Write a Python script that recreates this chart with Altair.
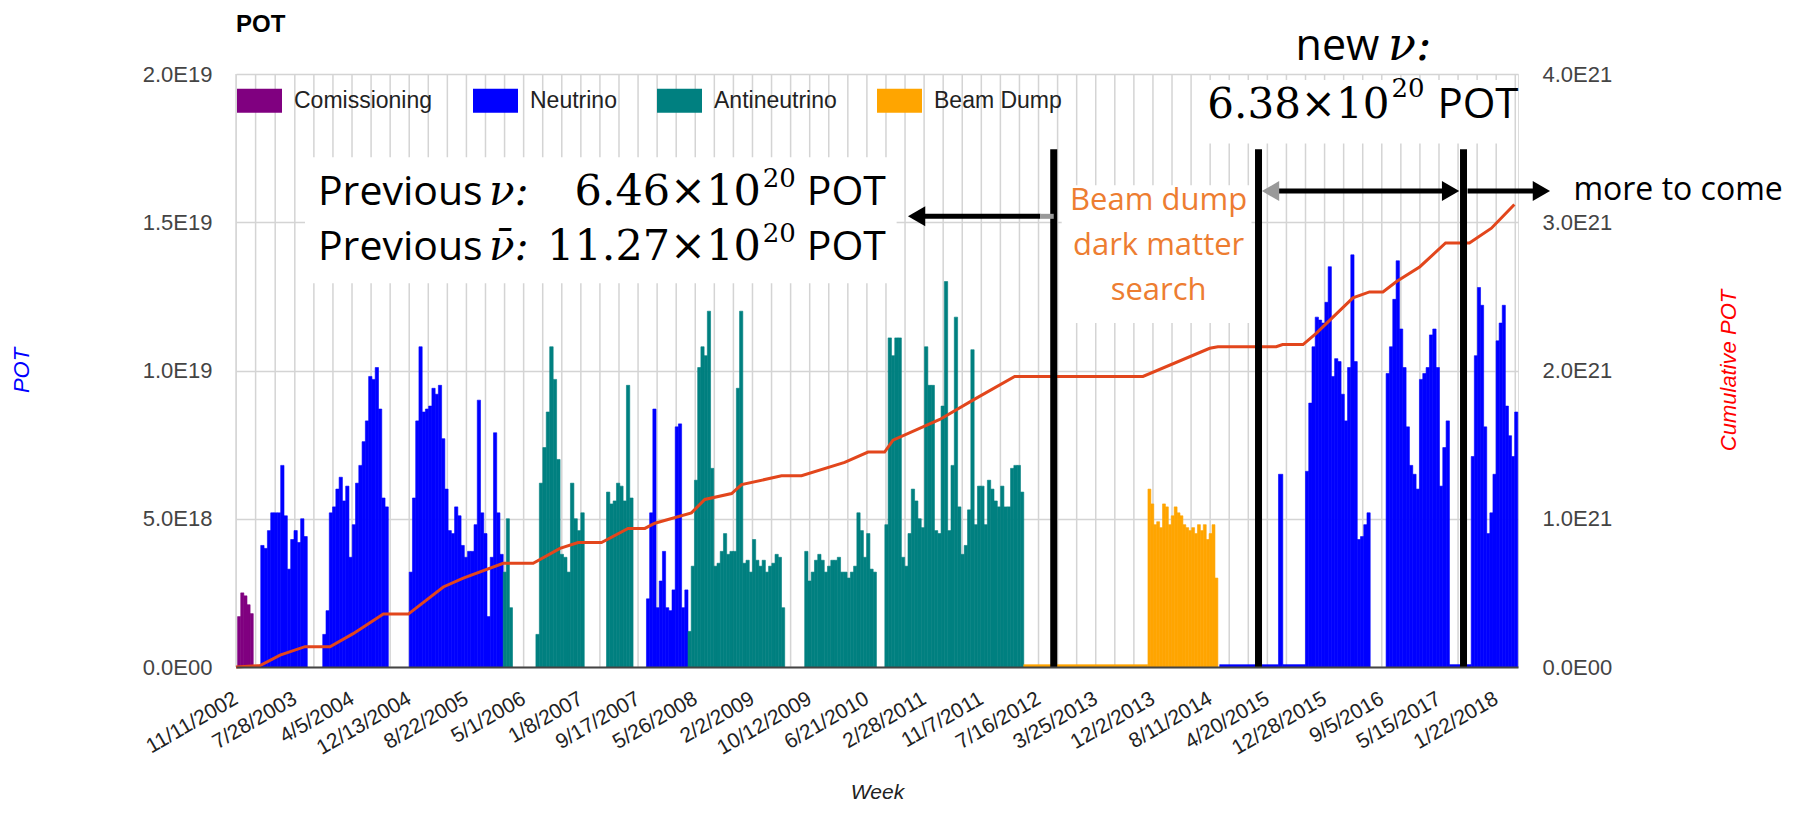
import altair as alt
import pandas as pd

# ------------------------------------------------------------------ data
# x-axis tick labels (every ~36 weeks)
WEEK_LABELS = ["2002-11-11", "2003-07-28", "2004-04-05", "2004-12-13", "2005-08-22",
               "2006-05-01", "2007-01-08", "2007-09-17", "2008-05-26", "2009-02-02",
               "2009-10-12", "2010-06-21", "2011-02-28", "2011-11-07", "2012-07-16",
               "2013-03-25", "2013-12-02", "2014-08-11", "2015-04-20", "2015-12-28",
               "2016-09-05", "2017-05-15", "2018-01-22"]
X_FIRST = "2002-11-11"
X_LAST = "2018-04-28"

RUN_TYPES = ["Comissioning", "Neutrino", "Antineutrino", "Beam Dump"]
RUN_COLORS = ["#800080", "#0000ff", "#008080", "#ffa500"]

# weekly POT (units of 1E18), in time order inside each run period
COMM_2002 = [1.7, 2.5, 2.4, 2.1, 1.8]
NU_2003 = [4.1, 4.0, 4.6, 5.2, 5.2, 5.2, 6.8, 5.1, 3.3, 4.3, 4.6, 4.2, 5.0, 4.4]
NU_2004 = [1.1, 1.9, 5.2, 5.4, 6.0, 6.4, 5.6, 6.1, 3.7, 4.8, 6.2, 6.8, 7.6, 8.3,
           9.8, 9.7, 10.1, 8.7, 5.7, 5.4]
NU_2005 = [3.2, 5.7, 8.3, 10.8, 8.6, 8.7, 8.8, 9.4, 9.2, 9.5, 7.7, 6.0, 4.6, 4.5,
           5.4, 5.1, 4.1, 3.7, 3.9, 3.9, 4.8, 9.0, 5.2, 4.5, 1.7, 3.7, 7.9, 5.2, 3.8]
ANTI_2006A = [3.2, 5.0, 2.0]
ANTI_2006B = [1.1, 6.2, 7.4, 8.6, 10.8, 9.7, 7.0, 3.8, 3.7, 3.2, 6.2, 5.0, 4.6, 5.2]
ANTI_2007 = [5.9, 5.5, 5.6, 6.2, 6.1, 5.6, 9.5, 5.7]
NU_2008 = [2.3, 5.2, 8.7, 2.0, 2.9, 3.9, 2.0, 1.9, 2.6, 8.1, 8.2, 2.0, 2.6]
ANTI_2008 = [1.2, 3.4, 6.3, 10.1, 10.8, 10.5, 12.0, 6.7, 3.4, 3.5, 3.9, 4.5, 3.8, 3.9,
             3.9, 9.4, 12.0, 3.5, 3.6, 3.2, 4.3, 3.6, 3.4, 3.6, 3.2, 3.4, 3.5, 3.8,
             3.7, 2.0]
ANTI_2009 = [3.9, 2.9, 3.2, 3.6, 3.8, 3.6, 3.2, 3.4, 3.6, 3.6, 3.7, 3.2, 3.2, 3.0,
             3.2, 3.4, 5.2, 4.6, 3.7, 4.5, 3.3, 3.2]
ANTI_2010 = [4.8, 11.1, 10.5, 11.1, 11.1, 3.7, 3.4, 4.5, 6.0, 5.6, 5.0, 4.7, 10.8, 9.5,
             9.5, 4.6, 4.5, 8.8, 13.0, 4.6, 6.8, 11.8, 5.4, 3.8, 4.1, 5.3, 10.7, 4.8,
             6.1, 6.1, 4.8, 6.3, 6.0, 5.6, 5.4, 6.1, 5.4, 5.4, 6.7, 6.8, 6.8, 5.9]
DUMP_2014 = [6.0, 5.5, 4.8, 4.9, 4.7, 5.5, 5.4, 4.8, 5.1, 5.4, 5.2, 5.1, 4.8, 4.7,
             4.6, 4.7, 4.5, 4.8, 4.6, 4.8, 4.3, 4.5, 4.8, 3.0]
NU_2015_TEST = [6.5]
NU_2015 = [6.6, 8.9, 10.8, 11.8, 11.7, 11.6, 12.3, 13.5, 9.8, 10.4, 10.3, 9.2, 8.3,
           10.1, 13.9, 10.3, 4.3, 4.4, 4.8, 5.2]
NU_2016 = [9.9, 10.8, 12.4, 13.7, 11.4, 10.1, 8.1, 6.8, 6.5, 6.0, 9.7, 9.9, 10.1,
           11.2, 11.4, 10.1, 6.1, 7.4, 8.3]
NU_2017 = [7.1, 10.5, 12.8, 12.2, 8.1, 4.5, 5.2, 6.5, 11.0, 11.6, 12.2, 8.8, 7.8,
           7.1, 8.6]
IDLE = [0.08]  # beam-off weeks drawn as a thin line on the baseline

SEGMENTS = [
    ("Comissioning", "2002-11-18", "2003-01-26", COMM_2002),
    ("Neutrino", "2003-02-28", "2003-09-21", NU_2003),
    ("Neutrino", "2003-11-28", "2004-09-12", NU_2004),
    ("Neutrino", "2004-12-13", "2006-01-31", NU_2005),
    ("Antineutrino", "2006-01-31", "2006-03-13", ANTI_2006A),
    ("Antineutrino", "2006-06-24", "2007-01-23", ANTI_2006B),
    ("Antineutrino", "2007-05-01", "2007-08-26", ANTI_2007),
    ("Neutrino", "2007-10-24", "2008-04-24", NU_2008),
    ("Antineutrino", "2008-04-24", "2009-06-24", ANTI_2008),
    ("Antineutrino", "2009-09-20", "2010-08-02", ANTI_2009),
    ("Antineutrino", "2010-09-08", "2012-05-12", ANTI_2010),
    ("Beam Dump", "2012-05-12", "2013-11-09", IDLE),
    ("Beam Dump", "2013-11-10", "2014-09-14", DUMP_2014),
    ("Neutrino", "2014-09-22", "2015-06-08", IDLE),
    ("Neutrino", "2015-06-08", "2015-06-27", NU_2015_TEST),
    ("Neutrino", "2015-06-27", "2015-10-05", IDLE),
    ("Neutrino", "2015-10-05", "2016-07-16", NU_2015),
    ("Neutrino", "2016-09-24", "2017-06-30", NU_2016),
    ("Neutrino", "2017-06-30", "2017-10-04", IDLE),
    ("Neutrino", "2017-10-04", "2018-04-27", NU_2017),
]

# cumulative POT (units of 1E21)
CUM_DATES = ["2002-11-11", "2003-02-25", "2003-05-24", "2003-09-11", "2003-12-30",
             "2004-04-10", "2004-08-21", "2004-12-09", "2005-05-12", "2005-08-08",
             "2006-01-31", "2006-06-12", "2006-10-08", "2006-12-27", "2007-04-09",
             "2007-08-04", "2007-10-17", "2007-11-30", "2008-05-09", "2008-07-07",
             "2008-11-02", "2008-12-16", "2009-06-10", "2009-09-06", "2010-03-15",
             "2010-06-26", "2010-09-07", "2010-10-14", "2011-05-08", "2011-10-01",
             "2012-04-02", "2013-10-19", "2014-08-09", "2014-09-14", "2015-05-29",
             "2015-06-26", "2015-09-24", "2015-11-21", "2016-05-01", "2016-07-13",
             "2016-09-10", "2016-11-09", "2017-02-20", "2017-06-13", "2017-09-26",
             "2018-01-01", "2018-04-12"]
CUM_E21 = [0, 0.01, 0.08, 0.137, 0.137, 0.225, 0.357, 0.357, 0.54, 0.60,
           0.70, 0.70, 0.80, 0.84, 0.84, 0.935, 0.935, 0.97, 1.04, 1.13,
           1.17, 1.23, 1.29, 1.29, 1.38, 1.45, 1.45, 1.53, 1.67, 1.80,
           1.96, 1.96, 2.15, 2.16, 2.16, 2.175, 2.175, 2.25, 2.49, 2.53,
           2.53, 2.60, 2.70, 2.86, 2.86, 2.96, 3.12]

# ------------------------------------------------------------------ annotations
PERIOD_LINES = ["2012-09-21", "2015-03-12", "2017-08-31"]
SANS_TEXT = ["Previous", "Previous", "POT", "POT", "new", "POT", "more to come"]
SANS_DATE = ["2003-11-07", "2003-11-07", "2009-09-29", "2009-09-29", "2015-08-22",
             "2017-05-08", "2018-12-28"]
SANS_Y = [15.57, 13.72, 15.57, 13.72, 20.46, 18.50, 15.74]
SANS_SIZE = [41, 41, 41, 41, 43, 42, 32]
NU_TEXT = ["\u03bd:", "\u03bd\u0304:", "\u03bd:"]
NU_DATE = ["2005-11-29", "2005-11-29", "2016-10-02"]
NU_Y = [15.57, 13.72, 20.46]
NU_SIZE = [42, 42, 46]
NUM_TEXT = ["6.46\u00d710", "11.27\u00d710", "6.38\u00d710"]
NUM_DATE = ["2009-03-11", "2009-03-11", "2016-10-09"]
NUM_Y = [15.57, 13.72, 18.50]
NUM_SIZE = [43, 43, 42]
SUP_TEXT = ["20", "20", "20"]
SUP_DATE = ["2009-03-19", "2009-03-19", "2016-10-18"]
SUP_Y = [16.18, 14.32, 19.21]
DUMP_TEXT = ["Beam dump", "dark matter", "search"]
DUMP_DATE = ["2013-12-27", "2013-12-27", "2013-12-27"]
DUMP_Y = [15.40, 13.89, 12.37]
BOX_X = ["2003-09-11", "2014-07-18", "2012-10-26"]
BOX_X2 = ["2010-10-30", "2018-04-04", "2015-02-09"]
BOX_Y = [12.94, 17.66, 11.6]
BOX_Y2 = [17.19, 19.8, 16.25]
SHAFT_X = ["2011-01-26", "2012-07-24", "2015-04-21", "2017-09-18"]
SHAFT_X2 = ["2012-07-24", "2012-09-21", "2017-07-05", "2018-08-09"]
SHAFT_Y = [15.2, 15.2, 16.05, 16.05]
SHAFT_COL = ["#000000", "#999999", "#000000", "#000000"]
HEAD_X = ["2011-01-26", "2015-05-04", "2017-07-05", "2018-08-09"]
HEAD_Y = [15.2, 16.05, 16.05, 16.05]
HEAD_SHAPE = ["triangle-left", "triangle-left", "triangle-right", "triangle-right"]
HEAD_COL = ["#000000", "#999999", "#000000", "#000000"]


def ms(t):
    return int(pd.Timestamp(t).value // 1_000_000)


# ------------------------------------------------------------------ tables
rows = []
for run, s, e, vals in SEGMENTS:
    t0, t1 = pd.Timestamp(s), pd.Timestamp(e)
    step = (t1 - t0) / len(vals)
    for i, v in enumerate(vals):
        rows.append({"run": run, "start": ms(t0 + step * i),
                     "end": ms(t0 + step * (i + 1)), "pot": v * 1e18, "base": 0.0})
bars_df = pd.DataFrame(rows)

cum_df = pd.DataFrame({"date": [ms(d) for d in CUM_DATES],
                       "cum": [v * 1e21 for v in CUM_E21]})

lab_ts = [pd.Timestamp(d) for d in WEEK_LABELS]
grid_ts = []
for a, b in zip(lab_ts[:-1], lab_ts[1:]):
    grid_ts += [a, a + (b - a) / 3, a + 2 * (b - a) / 3]
grid_ts += [lab_ts[-1], lab_ts[-1] + pd.Timedelta(weeks=12)]
grid_df = pd.DataFrame({"date": [ms(t) for t in grid_ts], "lo": 0.0, "hi": 2e19})


def tdf(texts, dates, ys, sizes):
    return pd.DataFrame({"label": texts, "date": [ms(d) for d in dates],
                         "y": [v * 1e18 for v in ys], "size": sizes})


# ------------------------------------------------------------------ scales / axes
XSCALE = alt.Scale(type="utc", domain=[ms(X_FIRST), ms(X_LAST)], nice=False)
YSCALE = alt.Scale(domain=[0, 2e19], nice=False, zero=True)
Y2SCALE = alt.Scale(domain=[0, 4e21], nice=False, zero=True)
SCI = "datum.value == 0 ? '0.0E00' : replace(upper(format(datum.value, '.1e')), '+', '')"
FONT = "Liberation Sans"

X_AXIS = alt.Axis(values=[ms(d) for d in WEEK_LABELS],
                  labelExpr="utcFormat(datum.value, '%-m/%-d/%Y')",
                  labelAngle=-30, labelAlign="right", labelBaseline="middle",
                  labelFont=FONT, labelFontSize=21, labelColor="#222",
                  labelPadding=30, labelOverlap=False, labelFlush=False,
                  ticks=False, tickSize=0, grid=False,
                  domain=True, domainColor="#444", domainWidth=2,
                  title="Week", titleFont=FONT, titleFontSize=21,
                  titleFontStyle="italic", titleFontWeight="normal", titleColor="#222",
                  titleX=641, titleY=131, titleAlign="center",
                  titleBaseline="alphabetic", zindex=1)
Y_AXIS = alt.Axis(values=[0, 5e18, 1e19, 1.5e19, 2e19], labelExpr=SCI,
                  labelFont=FONT, labelFontSize=22, labelColor="#444",
                  labelPadding=24, labelFlush=False, ticks=False, tickSize=0,
                  domain=False, grid=True, gridColor="#d4d4d4", gridWidth=1.5,
                  title="POT", titleFont=FONT, titleFontSize=22,
                  titleFontStyle="italic", titleFontWeight="normal",
                  titleColor="#0000ff", titleX=-215, titleY=296, titleAngle=270,
                  titleAlign="center", titleBaseline="middle")
Y2_AXIS = alt.Axis(orient="right", values=[0, 1e21, 2e21, 3e21, 4e21], labelExpr=SCI,
                   labelFont=FONT, labelFontSize=22, labelColor="#444",
                   labelPadding=24, labelFlush=False, ticks=False, tickSize=0,
                   domain=False, grid=False,
                   title="Cumulative POT", titleFont=FONT, titleFontSize=22,
                   titleFontStyle="italic", titleFontWeight="normal",
                   titleColor="#ff0000", titleX=210, titleY=296, titleAngle=270,
                   titleAlign="center", titleBaseline="middle")

color_scale = alt.Scale(domain=RUN_TYPES, range=RUN_COLORS)
LEGEND = alt.Legend(orient="none", legendX=1, legendY=4, direction="horizontal",
                    title=None, labelFont=FONT, labelFontSize=23, labelColor="#222",
                    symbolType="M-1,-0.533H1V0.533H-1Z", symbolSize=2025,
                    symbolStrokeWidth=0, symbolOpacity=1, labelOffset=12,
                    columnPadding=40, labelLimit=400)


def X(field="date"):
    return alt.X(f"{field}:T", scale=XSCALE, axis=X_AXIS)


def Yb(field="y"):
    # left-axis layers (share the drawn left axis)
    return alt.Y(f"{field}:Q", scale=YSCALE, axis=Y_AXIS)


def Yo(field="y"):
    # overlay layers (same mapping, no axis of their own)
    return alt.Y(f"{field}:Q", scale=YSCALE, axis=None)


# ------------------------------------------------------------------ layers
vgrid = alt.Chart(grid_df).mark_rule(color="#d4d4d4", strokeWidth=1.5).encode(
    x=X(), y=Yb("lo"), y2="hi:Q")

boxes = alt.Chart(pd.DataFrame({
    "date": [ms(d) for d in BOX_X], "date2": [ms(d) for d in BOX_X2],
    "y": [v * 1e18 for v in BOX_Y], "y2": [v * 1e18 for v in BOX_Y2]})
).mark_rect(color="white").encode(x=X(), x2="date2:T", y=Yb(), y2="y2:Q")

bars = alt.Chart(bars_df).mark_bar(strokeWidth=0.6).encode(
    x=X("start"),
    x2="end:T",
    y=Yb("pot"),
    y2="base:Q",
    color=alt.Color("run:N", scale=color_scale, legend=LEGEND),
    stroke=alt.Stroke("run:N", scale=color_scale, legend=None),
)

base = alt.layer(vgrid, boxes, bars)

cum_line = alt.Chart(cum_df).mark_line(color="#e2461c", strokeWidth=3).encode(
    x=X(), y=alt.Y("cum:Q", scale=Y2SCALE, axis=Y2_AXIS))

period_lines = alt.Chart(pd.DataFrame({
    "date": [ms(d) for d in PERIOD_LINES], "lo": 0.0, "hi": 17.46e18})
).mark_rule(color="black", strokeWidth=7).encode(x=X(), y=Yo("lo"), y2="hi:Q")

shafts = alt.Chart(pd.DataFrame({
    "date": [ms(d) for d in SHAFT_X], "date2": [ms(d) for d in SHAFT_X2],
    "y": [v * 1e18 for v in SHAFT_Y], "col": SHAFT_COL})
).mark_rule(strokeWidth=5).encode(
    x=X(), x2="date2:T", y=Yo(), color=alt.Color("col:N", scale=None, legend=None))

heads = alt.Chart(pd.DataFrame({
    "date": [ms(d) for d in HEAD_X], "y": [v * 1e18 for v in HEAD_Y],
    "shape": HEAD_SHAPE, "col": HEAD_COL})
).mark_point(filled=True, opacity=1, strokeWidth=0, size=400).encode(
    x=X(), y=Yo(), shape=alt.Shape("shape:N", scale=None, legend=None),
    color=alt.Color("col:N", scale=None, legend=None))


def text_layer(df, font, style, align, color, weight="normal"):
    return alt.Chart(df).mark_text(font=font, fontStyle=style, fontWeight=weight,
                                   align=align, baseline="alphabetic",
                                   color=color).encode(
        x=X(), y=Yo(), text="label:N",
        size=alt.Size("size:Q", scale=None, legend=None))


t_sans = text_layer(tdf(SANS_TEXT, SANS_DATE, SANS_Y, SANS_SIZE),
                    "Open Sans", "normal", "left", "#000000")
t_nu = text_layer(tdf(NU_TEXT, NU_DATE, NU_Y, NU_SIZE),
                  "DejaVu Serif", "italic", "left", "#000000")
t_num = text_layer(tdf(NUM_TEXT, NUM_DATE, NUM_Y, NUM_SIZE),
                   "DejaVu Serif", "normal", "right", "#000000")
t_sup = text_layer(tdf(SUP_TEXT, SUP_DATE, SUP_Y, [26, 26, 26]),
                   "DejaVu Serif", "normal", "left", "#000000")
t_dump = text_layer(tdf(DUMP_TEXT, DUMP_DATE, DUMP_Y, [31, 31, 31]),
                    "Open Sans", "normal", "center", "#ed7d31")
t_title = text_layer(tdf(["POT"], [X_FIRST], [21.40], [24]),
                     FONT, "normal", "left", "#000000", weight="bold")

overlay = alt.layer(period_lines, shafts, heads, t_sans, t_nu, t_num, t_sup,
                    t_dump, t_title)

chart = alt.layer(base, cum_line, overlay).resolve_scale(y="independent").properties(
    width=1282, height=593,
    padding={"left": 228, "top": 66, "right": 270, "bottom": 140},
    autosize=alt.AutoSizeParams(type="none"),
).configure_view(stroke=None).configure(background="white")

chart.save("out.html", embed_options={"renderer": "svg", "actions": False})
